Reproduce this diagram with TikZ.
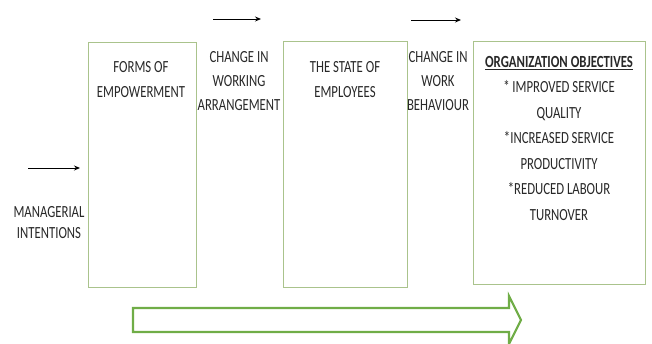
\documentclass[tikz,border=0pt]{standalone}
\usepackage{fontspec}
\setmainfont[FakeStretch=0.75]{Carlito}
\usetikzlibrary{arrows.meta}
\definecolor{boxline}{RGB}{170,195,140}
\definecolor{flowgreen}{RGB}{112,173,71}
\definecolor{ink}{RGB}{40,40,40}
\tikzset{
  x=1pt, y=-1pt,
  stage/.style={draw=boxline, line width=0.8pt, fill=white, inner sep=0pt},
  label/.style={anchor=north, inner sep=0pt, align=center, text=ink,
    font=\fontsize{17}{24}\selectfont},
  goal/.style={anchor=north, inner sep=0pt, align=center, text=ink,
    font=\fontsize{17}{25.5}\selectfont},
  cue/.style={-{Stealth[length=6pt,width=5pt]}, line width=0.9pt, black},
}
\begin{document}
\begin{tikzpicture}
\useasboundingbox (0,0) rectangle (652,343);

% stage boxes
\node[stage, minimum width=108pt, minimum height=245pt, anchor=north west] (forms) at (88,42) {};
\node[stage, minimum width=124pt, minimum height=246pt, anchor=north west] (state) at (283,41) {};
\node[stage, minimum width=172pt, minimum height=243pt, anchor=north west] (goals) at (473,41) {};

% box texts
\node[label, font=\fontsize{17}{25}\selectfont] (formstext) at (141,61) {FORMS OF\\EMPOWERMENT};
\node[label, font=\fontsize{17}{25}\selectfont] (statetext) at (345,61) {THE STATE OF\\EMPLOYEES};
\node[goal] (goalstext) at (559,56) {\textbf{\underline{ORGANIZATION OBJECTIVES}}\\
  * IMPROVED SERVICE\\QUALITY\\*INCREASED SERVICE\\PRODUCTIVITY\\*REDUCED LABOUR\\TURNOVER};

% texts between the boxes
\node[label] (working) at (239,51) {CHANGE IN\\WORKING\\ARRANGEMENT};
\node[label] (behaviour) at (438,51) {CHANGE IN\\WORK\\BEHAVIOUR};
\node[label, font=\fontsize{17}{21}\selectfont] (intent) at (49,206) {MANAGERIAL\\INTENTIONS};

% small direction arrows
\coordinate (a1s) at (213,19); \coordinate (a1e) at (261,19);
\coordinate (a2s) at (411,20); \coordinate (a2e) at (461,20);
\coordinate (a3s) at (28,168); \coordinate (a3e) at (80,168);
\draw[cue] (a1s) -- (a1e);
\draw[cue] (a2s) -- (a2e);
\draw[cue] (a3s) -- (a3e);

% large flow arrow along the bottom
\draw[flowgreen, line width=2.2pt, line join=miter, fill=white]
  (133,308) -- (509,308) -- (509,296) -- (521,320) -- (509,344)
  -- (509,332) -- (133,332) -- cycle;
\end{tikzpicture}
\end{document}
